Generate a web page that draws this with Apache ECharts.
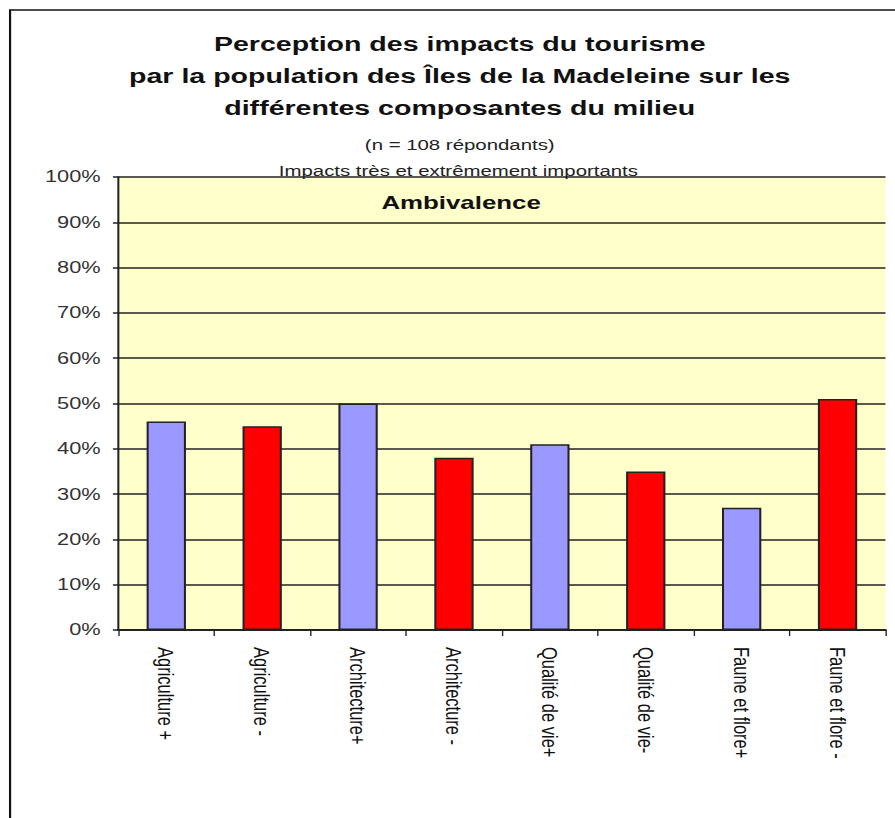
<!DOCTYPE html>
<html>
<head>
<meta charset="utf-8">
<script src="https://cdn.jsdelivr.net/npm/echarts@6/dist/echarts.min.js"></script>
<style>
  html, body { margin: 0; padding: 0; background: #fff; overflow: hidden; }
  /* l'original est étiré horizontalement : on dessine plus étroit puis on étire */
  #main { width: 658px; height: 818px; transform: scaleX(1.3602); transform-origin: 0 0; }
</style>
</head>
<body>
<div id="main"></div>
<script>
// catégories et valeurs (%)
const categories = [
  'Agriculture +', 'Agriculture -', 'Architecture+', 'Architecture -',
  'Qualité de vie+', 'Qualité de vie-', 'Faune et flore+', 'Faune et flore -'
]
const values = [46, 45, 50, 38, 41, 35, 27, 51]
const barColors = ['#9999ff', '#ff0000', '#9999ff', '#ff0000', '#9999ff', '#ff0000', '#9999ff', '#ff0000']
const yTicks = [0, 10, 20, 30, 40, 50, 60, 70, 80, 90, 100]

const titleLines = [
  'Perception des impacts du tourisme',
  'par la population des Îles de la Madeleine sur les',
  'différentes composantes du milieu'
]
const subLines = ['(n = 108 répondants)', 'Impacts très et extrêmement importants']

const font = 'Liberation Sans, Arial, sans-serif'
const chart = echarts.init(document.getElementById('main'), null, { renderer: 'svg', width: 658, height: 818 })

const option = {
  backgroundColor: '#fff',
  animation: false,
  title: [
    {
      text: titleLines.join('\n'),
      left: 338, top: 27, textAlign: 'center', padding: 0,
      textStyle: { fontFamily: font, fontSize: 21, fontWeight: 'bold', color: '#111', lineHeight: 32 }
    },
    {
      text: subLines[0],
      left: 338, top: 137, textAlign: 'center', padding: 0,
      textStyle: { fontFamily: font, fontSize: 15, fontWeight: 'normal', color: '#222' }
    },
    {
      text: subLines[1],
      left: 337, top: 163, textAlign: 'center', padding: 0,
      textStyle: { fontFamily: font, fontSize: 15, fontWeight: 'normal', color: '#222' }
    },
    {
      text: 'Ambivalence',
      left: 339, top: 193, textAlign: 'center', padding: 0,
      textStyle: { fontFamily: font, fontSize: 19, fontWeight: 'bold', color: '#111' }
    }
  ],
  graphic: [
    {
      type: 'polyline', z: 0,
      shape: { points: [[7.4, 818], [7.4, 10], [658, 10]] },
      style: { stroke: '#111', lineWidth: 1.6, fill: null }
    }
  ],
  grid: {
    left: 87, right: 7, top: 177, bottom: 188,
    show: true, backgroundColor: '#ffffcc', borderWidth: 0
  },
  xAxis: {
    type: 'category',
    data: categories,
    axisLine: { lineStyle: { color: '#222', width: 2 } },
    axisTick: { show: true, length: 6, lineStyle: { color: '#222', width: 1 } },
    axisLabel: {
      rotate: -90, margin: 17, interval: 0,
      fontFamily: font, fontSize: 16.5, color: '#111'
    }
  },
  yAxis: {
    type: 'value',
    min: 0, max: 100, interval: 10,
    axisLine: { show: true, lineStyle: { color: '#222', width: 1.5 } },
    axisTick: { show: true, length: 4, lineStyle: { color: '#222', width: 1.5 } },
    axisLabel: {
      formatter: function (v) { return yTicks.indexOf(v) >= 0 ? v + '%' : '' },
      margin: 13, fontFamily: font, fontSize: 16, color: '#333'
    },
    splitLine: { show: true, lineStyle: { color: '#222', width: 1.6 } }
  },
  series: [
    {
      type: 'bar',
      barWidth: '41%',
      data: values.map(function (v, i) {
        return { value: v, itemStyle: { color: barColors[i] } }
      }),
      itemStyle: { borderColor: '#222', borderWidth: 1.5 }
    }
  ]
}

chart.setOption(option)
</script>
</body>
</html>
